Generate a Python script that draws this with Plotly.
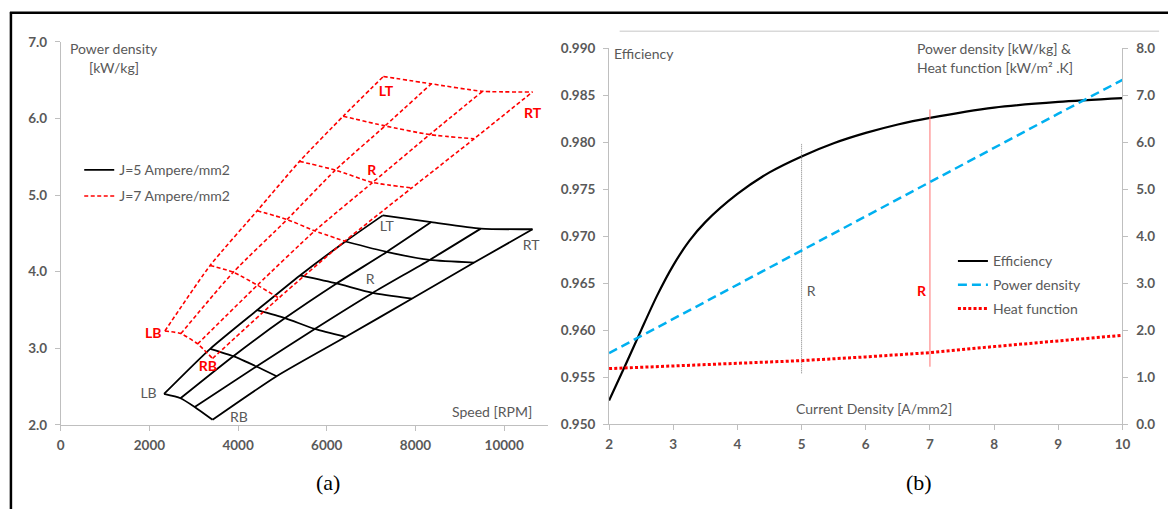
import plotly.graph_objects as go

W, H = 1176, 517

# ---------------- Panel (a): power density vs speed grids ----------------
# rows = cross lines (bottom edge LB-RB ... top edge LT-RT), columns = longitudinal lines
speed_j5 = [
    [2330, 2701, 3022, 3424],
    [3370, 3892, 4413, 4869],
    [4431, 5060, 5729, 6430],
    [5395, 6221, 7035, 7917],
    [6421, 7352, 8319, 9323],
    [7263, 8357, 9473, 10640],
]
power_j5 = [
    [2.405, 2.349, 2.235, 2.067],
    [2.994, 2.898, 2.763, 2.636],
    [3.500, 3.395, 3.254, 3.151],
    [3.952, 3.847, 3.724, 3.648],
    [4.395, 4.259, 4.154, 4.120],
    [4.736, 4.648, 4.563, 4.555],
]
speed_j7 = [
    [2349, 2710, 3088, 3424],
    [3370, 3892, 4435, 4917],
    [4431, 5105, 5730, 6408],
    [5386, 6194, 7035, 7917],
    [6370, 7314, 8319, 9323],
    [7276, 8357, 9514, 10640],
]
power_j7 = [
    [3.227, 3.193, 3.058, 2.868],
    [4.082, 3.994, 3.825, 3.657],
    [4.796, 4.682, 4.534, 4.399],
    [5.441, 5.327, 5.166, 5.094],
    [6.030, 5.904, 5.790, 5.736],
    [6.549, 6.453, 6.356, 6.347],
]
corner_names = ["LB", "RB", "R", "LT", "RT"]
j5_label_speed = [1980, 4018, 6980, 7352, 10611]
j5_label_power = [2.392, 2.089, 3.889, 4.576, 4.330]
j7_label_speed = [2085, 3319, 7017, 7337, 10640]
j7_label_power = [3.184, 2.750, 5.302, 6.339, 6.052]

# ---------------- Panel (b): vs current density ----------------
cd_eff = [2, 2.25, 2.5, 2.75, 3, 3.25, 3.5, 4, 4.5, 5, 5.5, 6, 6.5, 7, 8, 9, 10]
efficiency = [0.9525, 0.9562, 0.9600, 0.9637, 0.9669, 0.9695, 0.9715, 0.9745, 0.9768,
              0.9785, 0.9799, 0.9810, 0.9819, 0.9826, 0.9837, 0.9843, 0.9847]
cd = [2, 3, 4, 5, 6, 7, 8, 9, 10]
power_density = [1.51, 2.24, 2.97, 3.70, 4.43, 5.16, 5.88, 6.61, 7.33]
heat_function = [1.18, 1.24, 1.30, 1.35, 1.43, 1.52, 1.65, 1.77, 1.89]
ref_cd = [5, 7]
ref_low = [0.9554, 0.9561]
ref_high = [0.9799, 0.9835]
r_label_cd = [5.15, 6.87]
r_label_eff = [0.9640, 0.9640]

GRAY_TXT = "#595959"
AXIS_C = "#bfbfbf"
FONT = "Lato"


def px(x):
    return x / W


def py(y):
    return 1 - y / H


def grid_path(X, Y):
    xs, ys = [], []
    for r in range(len(X)):
        xs += list(X[r]) + [None]
        ys += list(Y[r]) + [None]
    for c in range(len(X[0])):
        xs += [X[r][c] for r in range(len(X))] + [None]
        ys += [Y[r][c] for r in range(len(Y))] + [None]
    return xs, ys


fig = go.Figure()

gx, gy = grid_path(speed_j5, power_j5)
fig.add_trace(go.Scatter(x=gx, y=gy, mode="lines", name="J=5 Ampere/mm2",
                         line=dict(color="black", width=1.8, shape="spline", smoothing=0.6),
                         xaxis="x", yaxis="y", legend="legend", legendgroup="a1",
                         hoverinfo="skip"))
gx, gy = grid_path(speed_j7, power_j7)
fig.add_trace(go.Scatter(x=gx, y=gy, mode="lines", name="J=7 Ampere/mm2",
                         line=dict(color="#ff0000", width=1.6, dash="4px,2.5px",
                                   shape="spline", smoothing=0.6),
                         xaxis="x", yaxis="y", legend="legend", legendgroup="a2",
                         hoverinfo="skip"))
fig.add_trace(go.Scatter(x=j5_label_speed, y=j5_label_power, mode="text",
                         text=corner_names,
                         textfont=dict(family=FONT, size=14, color=GRAY_TXT),
                         xaxis="x", yaxis="y", showlegend=False, hoverinfo="skip"))
fig.add_trace(go.Scatter(x=j7_label_speed, y=j7_label_power, mode="text",
                         text=corner_names,
                         textfont=dict(family=FONT, size=14, color="#ff0000", weight="bold"),
                         xaxis="x", yaxis="y", showlegend=False, hoverinfo="skip"))

# Panel (b)
fig.add_trace(go.Scatter(x=cd_eff, y=efficiency, mode="lines", name="Efficiency",
                         line=dict(color="black", width=2.2, shape="spline", smoothing=0.8),
                         xaxis="x2", yaxis="y2", legend="legend2", legendgroup="b1"))
fig.add_trace(go.Scatter(x=cd, y=power_density, mode="lines", name="Power density",
                         line=dict(color="#00b0f0", width=2.5, dash="9px,5px"),
                         xaxis="x2", yaxis="y3", legend="legend2", legendgroup="b2"))
fig.add_trace(go.Scatter(x=cd, y=heat_function, mode="lines", name="Heat function",
                         line=dict(color="#ff0000", width=3, dash="3px,2.2px"),
                         xaxis="x2", yaxis="y3", legend="legend2", legendgroup="b3"))
fig.add_trace(go.Scatter(x=[ref_cd[0], ref_cd[0]], y=[ref_low[0], ref_high[0]], mode="lines",
                         line=dict(color="#7f7f7f", width=1, dash="1px,1px"),
                         xaxis="x2", yaxis="y2", showlegend=False, hoverinfo="skip"))
fig.add_trace(go.Scatter(x=[ref_cd[1], ref_cd[1]], y=[ref_low[1], ref_high[1]], mode="lines",
                         line=dict(color="#ff7070", width=1),
                         xaxis="x2", yaxis="y2", showlegend=False, hoverinfo="skip"))
fig.add_trace(go.Scatter(x=[r_label_cd[0]], y=[r_label_eff[0]], mode="text", text=["R"],
                         textfont=dict(family=FONT, size=14, color=GRAY_TXT),
                         xaxis="x2", yaxis="y2", showlegend=False, hoverinfo="skip"))
fig.add_trace(go.Scatter(x=[r_label_cd[1]], y=[r_label_eff[1]], mode="text", text=["R"],
                         textfont=dict(family=FONT, size=14, color="#ff0000", weight="bold"),
                         xaxis="x2", yaxis="y2", showlegend=False, hoverinfo="skip"))

tickfont = dict(family=FONT, size=13.5, color=GRAY_TXT, weight="bold")
common = dict(showline=True, linecolor=AXIS_C, linewidth=1, ticks="outside", ticklen=5,
              tickcolor=AXIS_C, showgrid=False, zeroline=False, tickfont=tickfont,
              fixedrange=True)

fig.update_layout(
    width=W, height=H, margin=dict(l=0, r=0, t=0, b=0),
    paper_bgcolor="white", plot_bgcolor="rgba(0,0,0,0)",
    font=dict(family=FONT, color=GRAY_TXT),
    xaxis=dict(domain=[px(57.3), px(550.1)], range=[0, 11000], dtick=2000, tickformat="d",
               anchor="y", ticklabelstandoff=3, **common),
    yaxis=dict(domain=[py(430.3), py(35)], range=[2, 7], dtick=1, tickformat=".1f",
               anchor="x", ticklabelstandoff=5, **common),
    xaxis2=dict(domain=[px(611.3), px(1130)], range=[2, 10], dtick=1, anchor="y2",
                ticklabelstandoff=3, **common),
    yaxis2=dict(domain=[py(429.3), py(41.7)], range=[0.95, 0.99], dtick=0.005,
                tickformat=".3f", anchor="x2", ticklabelstandoff=5, **common),
    yaxis3=dict(range=[0, 8], dtick=1, tickformat=".1f", anchor="x2", overlaying="y2",
                side="right", ticklabelstandoff=5, **common),
    legend=dict(x=px(76), y=py(151), xanchor="left", yanchor="top", bgcolor="rgba(0,0,0,0)",
                font=dict(family=FONT, size=14, color=GRAY_TXT), tracegroupgap=4.8,
                traceorder="grouped"),
    legend2=dict(x=px(958.7), y=py(245), xanchor="left", yanchor="top",
                 bgcolor="rgba(0,0,0,0)", font=dict(family=FONT, size=14, color=GRAY_TXT),
                 tracegroupgap=2.6, traceorder="grouped"),
)

anns = [
    ("Power density", 111, 42, "center", 14, GRAY_TXT, FONT),
    ("[kW/kg]", 111, 61.5, "center", 14, GRAY_TXT, FONT),
    ("Speed [RPM]", 493, 416, "center", 14, GRAY_TXT, FONT),
    ("Efficiency", 614, 46.7, "left", 14, GRAY_TXT, FONT),
    ("Power density [kW/kg] &", 920, 41.7, "left", 14, GRAY_TXT, FONT),
    ("Heat function [kW/m² .K]", 920, 61, "left", 14, GRAY_TXT, FONT),
    ("Current Density [A/mm2]", 879, 413.3, "center", 14, GRAY_TXT, FONT),
    ("(a)", 327, 490, "center", 22, "black", "Liberation Serif"),
    ("(b)", 924.5, 490, "center", 22, "black", "Liberation Serif"),
]
for text, x, y, align, size, color, fam in anns:
    fig.add_annotation(text=text, x=px(x), y=py(y), xref="paper", yref="paper",
                       xanchor=align, yanchor="middle", showarrow=False,
                       font=dict(family=fam, size=size, color=color))

# figure frame fragments and top rule of panel (b)
fig.add_shape(type="line", xref="paper", yref="paper", x0=px(7), x1=px(7), y0=0, y1=py(4),
              line=dict(color="black", width=2.5))
fig.add_shape(type="line", xref="paper", yref="paper", x0=px(6), x1=1, y0=py(5), y1=py(5),
              line=dict(color="black", width=2.5))
fig.add_shape(type="line", xref="paper", yref="paper", x0=px(622), x1=px(1167), y0=py(24),
              y1=py(24), line=dict(color="#d9d9d9", width=1.5))

fig.write_html("out.html")
